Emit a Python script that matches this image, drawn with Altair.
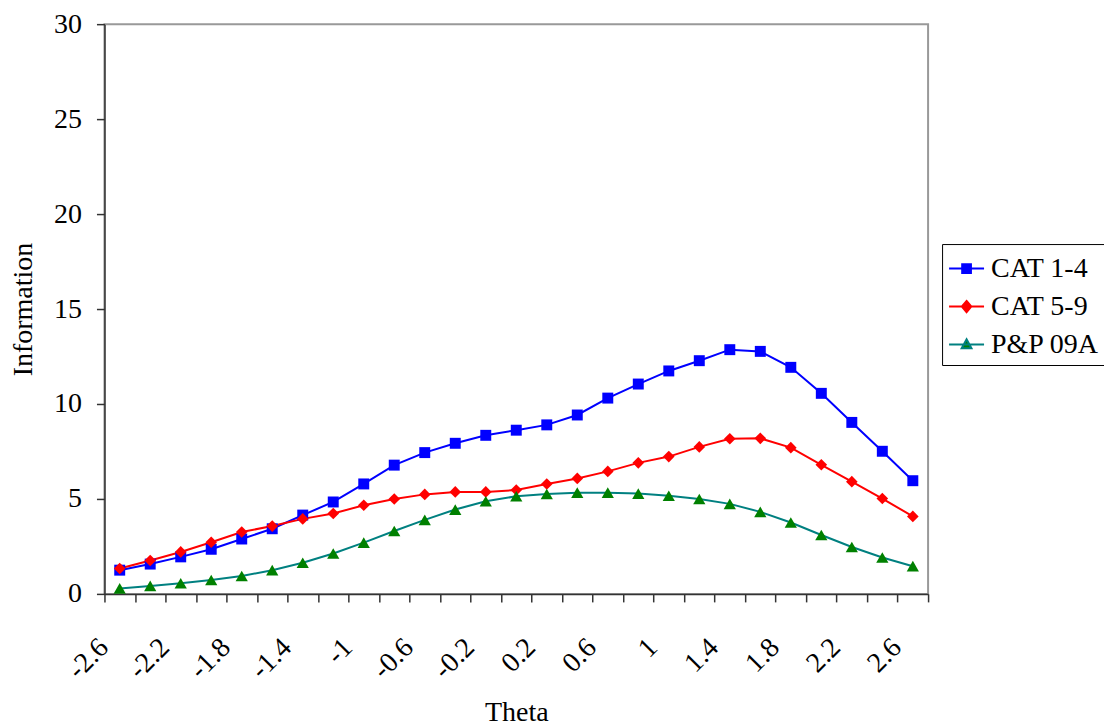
import altair as alt
import pandas as pd

theta = ["-2.6", "-2.4", "-2.2", "-2", "-1.8", "-1.6", "-1.4", "-1.2", "-1", "-0.8",
         "-0.6", "-0.4", "-0.2", "0", "0.2", "0.4", "0.6", "0.8", "1", "1.2",
         "1.4", "1.6", "1.8", "2", "2.2", "2.4", "2.6"]
shown_labels = ["-2.6", "-2.2", "-1.8", "-1.4", "-1", "-0.6", "-0.2", "0.2", "0.6",
                "1", "1.4", "1.8", "2.2", "2.6"]

cat_1_4 = [1.25, 1.57, 1.95, 2.35, 2.89, 3.43, 4.15, 4.84, 5.79, 6.78, 7.44, 7.93, 8.35, 8.62,
           8.90, 9.42, 10.31, 11.05, 11.74, 12.28, 12.86, 12.77, 11.93, 10.56, 9.03, 7.51, 5.96]
cat_5_9 = [1.34, 1.76, 2.21, 2.72, 3.26, 3.57, 3.95, 4.23, 4.67, 5.00, 5.24, 5.37, 5.37, 5.47,
           5.79, 6.08, 6.45, 6.90, 7.23, 7.74, 8.17, 8.19, 7.70, 6.80, 5.91, 5.02, 4.08]
pp_09a = [0.29, 0.42, 0.56, 0.73, 0.94, 1.25, 1.64, 2.13, 2.70, 3.31, 3.90, 4.44, 4.88, 5.14,
          5.26, 5.33, 5.33, 5.28, 5.17, 5.00, 4.74, 4.32, 3.76, 3.10, 2.47, 1.92, 1.46]

series = ["CAT 1-4", "CAT 5-9", "P&P 09A"]
line_colors = ["#0000FF", "#FF0000", "#008080"]
marker_colors = ["#0000FF", "#FF0000", "#008000"]
marker_shapes = ["square", "diamond", "triangle-up"]
legend_paths = [
    "M-1,0H1M-0.25,-0.25H0.25V0.25H-0.25Z",
    "M-1,0H1M0,-0.32L0.27,0L0,0.32L-0.27,0Z",
    "M-1,0H1M0,-0.3L0.28,0.22H-0.28Z",
]

rows = []
for name, vals in zip(series, [cat_1_4, cat_5_9, pp_09a]):
    for t, v in zip(theta, vals):
        rows.append({"Theta": t, "Information": v, "series": name})
df = pd.DataFrame(rows)

FONT = "Liberation Serif"

lab_list = "[" + ",".join("'" + s + "'" for s in shown_labels) + "]"
label_expr = f"indexof({lab_list}, datum.label) >= 0 ? datum.label : ''"

sym_expr = ("datum.value === 'CAT 1-4' ? '" + legend_paths[0] + "' : datum.value === 'CAT 5-9' ? '"
            + legend_paths[1] + "' : '" + legend_paths[2] + "'")
fill_expr = ("datum.value === 'CAT 1-4' ? '" + marker_colors[0] + "' : datum.value === 'CAT 5-9' ? '"
             + marker_colors[1] + "' : '" + marker_colors[2] + "'")

x_enc = alt.X(
    "Theta:N",
    sort=theta,
    scale=alt.Scale(type="band", paddingInner=0, paddingOuter=0),
    axis=alt.Axis(
        title="Theta",
        tickBand="extent",
        labelExpr=label_expr,
        labelAngle=-45,
        labelAlign="right",
        labelBaseline="middle",
        labelOffset=-16,
        labelPadding=41,
        tickSize=8,
        titlePadding=14,
    ),
)
y_enc = alt.Y(
    "Information:Q",
    scale=alt.Scale(domain=[0, 30]),
    axis=alt.Axis(title="Information", values=[0, 5, 10, 15, 20, 25, 30], tickSize=8,
                  labelPadding=15, titlePadding=16, grid=False),
)

lines = alt.Chart(df).mark_line(strokeWidth=2).encode(
    x=x_enc,
    y=y_enc,
    stroke=alt.Stroke(
        "series:N",
        scale=alt.Scale(domain=series, range=line_colors),
        legend=alt.Legend(
            title=None,
            orient="none",
            legendX=838,
            legendY=220,
            symbolType=alt.ExprRef(expr=sym_expr),
            symbolFillColor=alt.ExprRef(expr=fill_expr),
            symbolSize=1225,
            symbolStrokeWidth=2,
            labelFont=alt.ExprRef(expr="'Liberation Serif'"),
            labelFontSize=28,
            labelColor="black",
            labelOffset=6,
            strokeColor="black",
            fillColor="white",
            padding=6,
            rowPadding=5,
        ),
    ),
    detail="series:N",
)

points = alt.Chart(df).mark_point(filled=True, opacity=1).encode(
    x=x_enc,
    y=y_enc,
    fill=alt.Fill("series:N", scale=alt.Scale(domain=series, range=marker_colors), legend=None),
    shape=alt.Shape("series:N", scale=alt.Scale(domain=series, range=marker_shapes), legend=None),
    size=alt.Size("series:N", scale=alt.Scale(domain=series, range=[120, 150, 130]), legend=None),
)

chart = (
    alt.layer(lines, points)
    .resolve_scale(fill="independent", stroke="independent", shape="independent")
    .properties(
        width=824,
        height=570,
        autosize=alt.AutoSizeParams(type="none"),
        padding={"left": 96.5, "top": 16, "right": 176, "bottom": 133},
        background="white",
    )
    .configure(font=FONT)
    .configure_view(stroke="#999999", strokeWidth=2)
    .configure_legend(labelFont=FONT, labelFontSize=28, labelColor="black")
    .configure_axis(
        labelFont=FONT,
        titleFont=FONT,
        labelFontSize=28,
        titleFontSize=28,
        titleFontWeight="normal",
        labelColor="black",
        titleColor="black",
        domainColor="#333333",
        domainWidth=1.5,
        tickColor="#333333",
        tickWidth=1.5,
        labelOverlap=False,
    )
)

chart.save("out.html", embed_options={"renderer": "svg", "actions": False})
